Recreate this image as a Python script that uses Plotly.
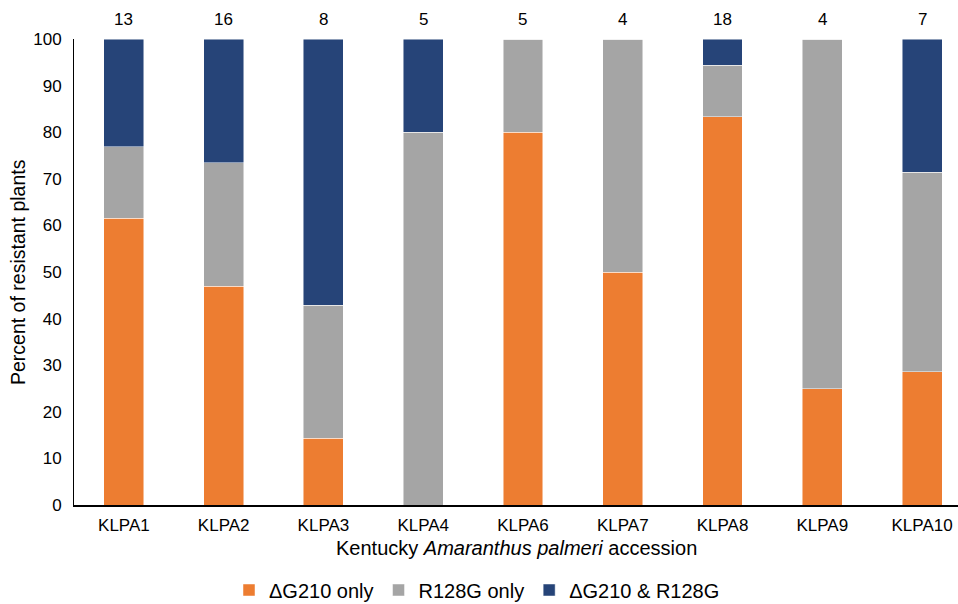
import plotly.graph_objects as go

categories = ["KLPA1", "KLPA2", "KLPA3", "KLPA4", "KLPA6", "KLPA7", "KLPA8", "KLPA9", "KLPA10"]
sample_sizes = [13, 16, 8, 5, 5, 4, 18, 4, 7]
dg210_only = [61.5, 46.9, 14.3, 0, 80, 50, 83.3, 25, 28.6]
r128g_only = [15.4, 26.5, 28.6, 80, 20, 50, 11.1, 75, 42.8]
both = [23.1, 26.6, 57.1, 20, 0, 0, 5.6, 0, 28.6]

series = [
    ("ΔG210 only", dg210_only, "#ED7D31"),
    ("R128G only", r128g_only, "#A5A5A5"),
    ("ΔG210 & R128G", both, "#264478"),
]

fig = go.Figure()
for name, vals, color in series:
    fig.add_trace(go.Bar(
        x=categories, y=vals, name=name, width=0.4,
        marker=dict(color=color, line=dict(color="rgba(255,255,255,0.6)", width=0.8)),
    ))

PH = 466.0
for cat, n in zip(categories, sample_sizes):
    fig.add_annotation(x=cat, y=1 + 20 / PH, xref="x", yref="paper", text=str(n),
                       showarrow=False, font=dict(size=17, color="#000"), yanchor="middle")

fig.add_annotation(x=0.5, y=-43 / PH, xref="paper", yref="paper",
                   text="Kentucky <i>Amaranthus palmeri</i> accession",
                   showarrow=False, font=dict(size=20, color="#000"), yanchor="middle")
fig.add_annotation(x=-56 / 884, y=0.5, xref="paper", yref="paper",
                   text="Percent of resistant plants", textangle=-90,
                   showarrow=False, font=dict(size=19.5, color="#000"), xanchor="center")

fig.update_layout(
    barmode="stack",
    width=958, height=604,
    margin=dict(l=74, r=0, t=39, b=99, autoexpand=False),
    plot_bgcolor="white", paper_bgcolor="white",
    font=dict(family="Liberation Sans, Arial, sans-serif", color="#000"),
    showlegend=True,
    legend=dict(orientation="h", x=(477 - 74) / 884, xanchor="center", y=-85 / PH,
                yanchor="middle", font=dict(size=20), traceorder="normal", itemwidth=30),
)
fig.update_xaxes(range=[-0.5, 8.36], showline=True, linecolor="#000", linewidth=1.5,
                 ticks="outside", ticklen=4, tickcolor="rgba(0,0,0,0)",
                 tickfont=dict(size=17), showgrid=False, automargin=False)
fig.update_yaxes(range=[0, 100], dtick=10, showline=True, linecolor="#000", linewidth=1,
                 ticks="outside", ticklen=8, tickcolor="rgba(0,0,0,0)",
                 tickfont=dict(size=17), showgrid=False, zeroline=False, automargin=False)

fig.write_html("out.html", config={"displayModeBar": False},
               post_script="document.body.style.margin='0';document.body.style.overflow='hidden';")
